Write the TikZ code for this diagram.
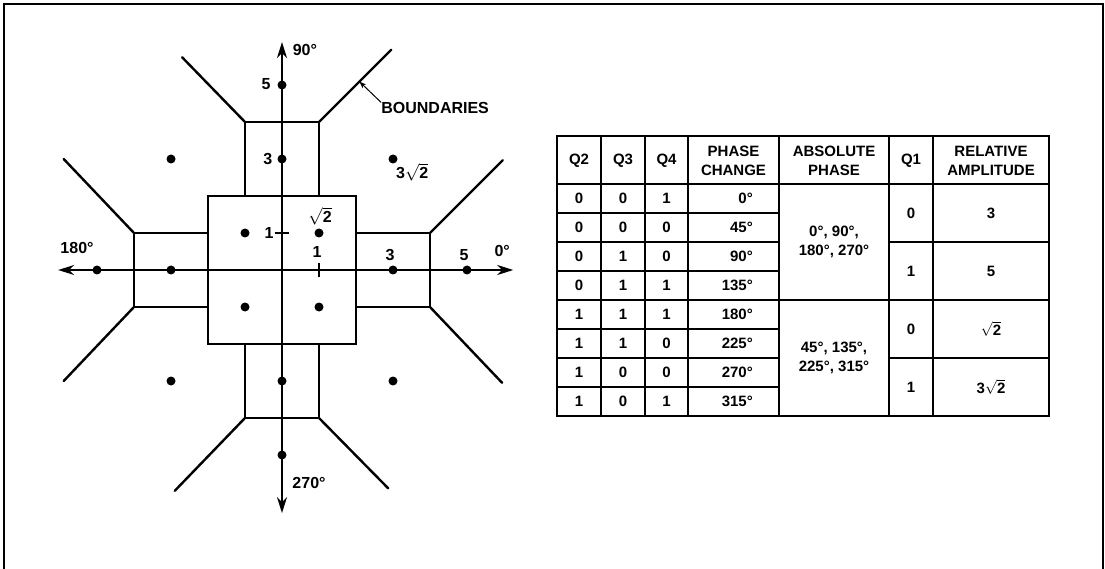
\documentclass[tikz,border=0pt]{standalone}
\usepackage{fontspec}
\setmainfont{Liberation Sans}
\usetikzlibrary{arrows.meta}
\begin{document}
\begin{tikzpicture}[x=1pt,y=-1pt,
  bnd/.style={line width=2.4pt,line cap=round,line join=miter},
  axisline/.style={line width=2.2pt},
  axtip/.style={{Stealth[length=16pt,width=10pt,inset=5pt]}-{Stealth[length=16pt,width=10pt,inset=5pt]}},
  dotnode/.style={circle,fill=black,inner sep=0pt,minimum size=9pt},
  lbl/.style={font=\fontsize{16}{19}\selectfont\bfseries,inner sep=0pt},
  tline/.style={line width=1.2pt},
  tcell/.style={font=\fontsize{15}{19}\selectfont\bfseries,inner sep=0pt,align=center},
]
\useasboundingbox (0,0) rectangle (1105,569);
% frame (open at the bottom)
\draw[line width=1.2pt] (4,569) -- (4,4) -- (1103,4) -- (1103,569);

% ---------------- constellation ----------------
\begin{scope}[shift={(282pt,-270pt)},x=37pt,y=37pt]
  \coordinate (xl) at (-6.05,0);
  \coordinate (xr) at (6.25,0);
  \coordinate (yt) at (0,6.16);
  \coordinate (yb) at (0,-6.57);
  \draw[axisline,axtip] (xl) -- (xr);
  \draw[axisline,axtip] (yb) -- (yt);

  % decision boundaries
  \draw[bnd] (-2,-2) rectangle (2,2);
  \draw[bnd] (-1,2) rectangle (1,4);
  \draw[bnd] (-1,-4) rectangle (1,-2);
  \draw[bnd] (-4,-1) rectangle (-2,1);
  \draw[bnd] (2,-1) rectangle (4,1);
  \draw[bnd] (-1,4) -- (-2.7,5.75);
  \draw[bnd] (1,4) -- (2.95,5.95) coordinate[pos=0.56] (bd);
  \draw[bnd] (-4,1) -- (-5.9,3.0);
  \draw[bnd] (4,1) -- (5.97,2.97);
  \draw[bnd] (-4,-1) -- (-5.9,-3.0);
  \draw[bnd] (4,-1) -- (5.95,-3.05);
  \draw[bnd] (-1,-4) -- (-2.9,-5.97);
  \draw[bnd] (1,-4) -- (2.87,-5.9);

  % ticks
  \draw[line width=1.4pt] (-0.2,1) -- (0.2,1);
  \draw[line width=1.4pt] (1,-0.2) -- (1,0.2);

  % signal points
  \node[dotnode] (p1) at (1,1) {};
  \node[dotnode] (p2) at (-1,1) {};
  \node[dotnode] (p3) at (-1,-1) {};
  \node[dotnode] (p4) at (1,-1) {};
  \node[dotnode] (p5) at (3,3) {};
  \node[dotnode] (p6) at (-3,3) {};
  \node[dotnode] (p7) at (-3,-3) {};
  \node[dotnode] (p8) at (3,-3) {};
  \node[dotnode] (p9) at (3,0) {};
  \node[dotnode] (p10) at (5,0) {};
  \node[dotnode] (p11) at (-3,0) {};
  \node[dotnode] (p12) at (-5,0) {};
  \node[dotnode] (p13) at (0,3) {};
  \node[dotnode] (p14) at (0,5) {};
  \node[dotnode] (p15) at (0,-3) {};
  \node[dotnode] (p16) at (0,-5) {};

  % labels
  \node[lbl] (l5v) at (-0.43,5.03) {5};
  \node[lbl] (l3v) at (-0.38,3.0) {3};
  \node[lbl] (l1v) at (-0.35,1.0) {1};
  \node[lbl] (lr2) at (1.03,1.45) {\(\sqrt{\textbf{2}}\)};
  \node[lbl] (l1h) at (0.95,0.49) {1};
  \node[lbl] (l3h) at (2.92,0.41) {3};
  \node[lbl] (l5h) at (4.92,0.41) {5};
  \node[lbl] (l0) at (5.95,0.51) {0°};
  \node[lbl] (l180) at (-5.54,0.59) {180°};
  \node[lbl] (l90) at (0.62,5.95) {90°};
  \node[lbl] (l270) at (0.73,-5.76) {270°};
  \node[lbl] (l3r2) at (3.52,2.65) {3\(\sqrt{\textbf{2}}\)};
  \node[lbl,anchor=west] (bnl) at (2.68,4.37) {BOUNDARIES};
  \draw[line width=1pt,-{Stealth[length=7pt,width=5pt]}] (bnl.north west) -- (bd);
\end{scope}

% ---------------- table ----------------
\draw[tline] (557,136) rectangle (1049,416);
\foreach \xx in {601,645,688,779,889,933} \draw[tline] (\xx,136) -- (\xx,416);
\draw[tline] (557,184) -- (1049,184);
\draw[tline] (557,300) -- (1049,300);
\foreach \yy in {213,242,271,329,358,387} \draw[tline] (557,\yy) -- (779,\yy);
\draw[tline] (889,242) -- (1049,242);
\draw[tline] (889,358) -- (1049,358);

\node[tcell] (hq2) at (579,161) {Q2};
\node[tcell] (hq3) at (623,161) {Q3};
\node[tcell] (hq4) at (666.5,161) {Q4};
\node[tcell] (hpc) at (733.5,161) {PHASE\\CHANGE};
\node[tcell] (hap) at (834,161) {ABSOLUTE\\PHASE};
\node[tcell] (hq1) at (911,161) {Q1};
\node[tcell] (hra) at (991,161) {RELATIVE\\AMPLITUDE};

\foreach \a/\b/\c/\d [count=\i] in {0/0/1/0,0/0/0/45,0/1/0/90,0/1/1/135,1/1/1/180,1/1/0/225,1/0/0/270,1/0/1/315}{
  \pgfmathsetmacro\yy{184+29*(\i-0.5)}
  \node[tcell] (qa\i) at (579,\yy) {\a};
  \node[tcell] (qb\i) at (623,\yy) {\b};
  \node[tcell] (qc\i) at (666.5,\yy) {\c};
  \node[tcell,anchor=east] (pc\i) at (753,\yy) {\d°};
}
\node[tcell] (ap1) at (834,242) {0°, 90°,\\180°, 270°};
\node[tcell] (ap2) at (834,358) {45°, 135°,\\225°, 315°};
\node[tcell] (q1a) at (911,213) {0};
\node[tcell] (q1b) at (911,271) {1};
\node[tcell] (q1c) at (911,329) {0};
\node[tcell] (q1d) at (911,387) {1};
\node[tcell] (ra1) at (991,213) {3};
\node[tcell] (ra2) at (991,271) {5};
\node[tcell] (ra3) at (991,329) {\(\sqrt{\textbf{2}}\)};
\node[tcell] (ra4) at (991,387) {3\(\sqrt{\textbf{2}}\)};
\end{tikzpicture}
\end{document}
